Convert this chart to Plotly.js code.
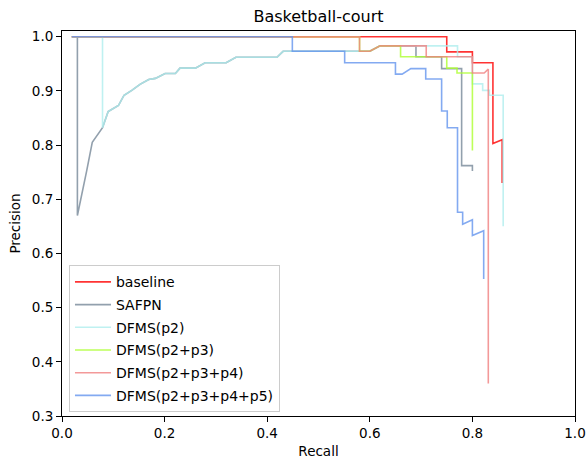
<!DOCTYPE html>
<html>
<head>
<meta charset="utf-8">
<script src="https://cdn.plot.ly/plotly-3.0.1.min.js"></script>
<style>html,body{margin:0;padding:0;background:#fff;}#chart{width:587px;height:466px;}</style>
</head>
<body>
<div id="chart"></div>
<script>
const seriesNames = ["baseline", "SAFPN", "DFMS(p2)", "DFMS(p2+p3)", "DFMS(p2+p3+p4)", "DFMS(p2+p3+p4+p5)"];
const seriesColors = ["#ff0000", "#778899", "#afeeee", "#adff2f", "#f08080", "#6495ed"];

const baselineRecall    = [0.019, 0.75, 0.75, 0.80, 0.80, 0.84, 0.84, 0.858, 0.858];
const baselinePrecision = [1.0, 1.0, 0.972, 0.972, 0.952, 0.952, 0.803, 0.81, 0.73];

const safpnRecall    = [0.03, 0.03, 0.048, 0.059, 0.079, 0.090, 0.110, 0.121, 0.136, 0.152, 0.169, 0.182, 0.201, 0.221, 0.230, 0.26, 0.279, 0.320, 0.339, 0.419, 0.431, 0.58, 0.60, 0.62, 0.69, 0.69, 0.74, 0.74, 0.779, 0.779, 0.80, 0.80];
const safpnPrecision = [1.0, 0.67, 0.752, 0.805, 0.832, 0.862, 0.873, 0.892, 0.901, 0.912, 0.921, 0.923, 0.932, 0.932, 0.942, 0.942, 0.952, 0.952, 0.962, 0.962, 0.973, 0.973, 0.973, 0.983, 0.983, 0.963, 0.963, 0.941, 0.941, 0.762, 0.762, 0.752];

const p2Recall    = [0.019, 0.079, 0.079, 0.090, 0.110, 0.121, 0.136, 0.152, 0.169, 0.182, 0.201, 0.221, 0.230, 0.26, 0.279, 0.320, 0.339, 0.419, 0.431, 0.58, 0.60, 0.62, 0.771, 0.771, 0.80, 0.80, 0.82, 0.82, 0.833, 0.833, 0.86, 0.86];
const p2Precision = [1.0, 1.0, 0.832, 0.862, 0.873, 0.892, 0.901, 0.912, 0.921, 0.923, 0.932, 0.932, 0.942, 0.942, 0.952, 0.952, 0.962, 0.962, 0.973, 0.973, 0.973, 0.983, 0.983, 0.963, 0.963, 0.913, 0.913, 0.901, 0.901, 0.892, 0.892, 0.65];

const p23Recall    = [0.019, 0.58, 0.58, 0.60, 0.62, 0.66, 0.66, 0.75, 0.75, 0.77, 0.77, 0.80, 0.80];
const p23Precision = [1.0, 1.0, 0.973, 0.973, 0.983, 0.983, 0.963, 0.963, 0.942, 0.942, 0.933, 0.933, 0.79];

const p234Recall    = [0.019, 0.58, 0.58, 0.60, 0.62, 0.71, 0.71, 0.80, 0.80, 0.823, 0.831, 0.831];
const p234Precision = [1.0, 1.0, 0.973, 0.973, 0.983, 0.983, 0.963, 0.963, 0.933, 0.933, 0.94, 0.36];

const p2345Recall    = [0.019, 0.449, 0.449, 0.551, 0.551, 0.65, 0.65, 0.663, 0.68, 0.709, 0.709, 0.74, 0.74, 0.751, 0.751, 0.771, 0.771, 0.781, 0.781, 0.80, 0.80, 0.822, 0.822];
const p2345Precision = [1.0, 1.0, 0.973, 0.973, 0.952, 0.952, 0.931, 0.931, 0.941, 0.941, 0.922, 0.922, 0.863, 0.863, 0.832, 0.832, 0.676, 0.676, 0.654, 0.662, 0.633, 0.642, 0.553];

const xTicks = [0.0, 0.2, 0.4, 0.6, 0.8, 1.0];
const yTicks = [0.3, 0.4, 0.5, 0.6, 0.7, 0.8, 0.9, 1.0];

const xs = [baselineRecall, safpnRecall, p2Recall, p23Recall, p234Recall, p2345Recall];
const ys = [baselinePrecision, safpnPrecision, p2Precision, p23Precision, p234Precision, p2345Precision];

const FONT = "DejaVu Sans, sans-serif";

const traces = seriesNames.map((n, i) => ({
  type: "scatter",
  mode: "lines",
  name: n,
  x: xs[i],
  y: ys[i],
  legendgroup: "g" + i,
  line: {color: seriesColors[i], width: 1.6},
  opacity: 0.8
}));

const axisCommon = {
  showgrid: false,
  zeroline: false,
  showline: true,
  mirror: true,
  linecolor: "#000",
  linewidth: 1,
  ticks: "outside",
  ticklen: 5,
  tickwidth: 1,
  tickcolor: "#000",
  tickfont: {family: FONT, size: 13.5, color: "#000"},
  tickformat: ".1f"
};

const layout = {
  width: 587,
  height: 466,
  margin: {l: 62, r: 12, t: 31, b: 50},
  paper_bgcolor: "#fff",
  plot_bgcolor: "#fff",
  showlegend: true,
  title: {
    text: "Basketball-court",
    font: {family: FONT, size: 16, color: "#000"},
    x: 0.5, xref: "paper", xanchor: "center",
    y: 1 - 16/466, yref: "container", yanchor: "middle"
  },
  xaxis: Object.assign({}, axisCommon, {
    range: [0, 1],
    tickvals: xTicks,
    title: {text: "Recall", font: {family: FONT, size: 13.5, color: "#000"}, standoff: 6}
  }),
  yaxis: Object.assign({}, axisCommon, {
    range: [0.3, 1.0105],
    tickvals: yTicks,
    title: {text: "Precision", font: {family: FONT, size: 13.5, color: "#000"}, standoff: 8}
  }),
  legend: {
    x: 0.0136, y: 0.0096, xanchor: "left", yanchor: "bottom",
    bgcolor: "rgba(255,255,255,0.8)",
    bordercolor: "#cccccc",
    borderwidth: 1,
    font: {family: FONT, size: 14, color: "#000"},
    traceorder: "grouped",
    tracegroupgap: 1.5,
    itemwidth: 36
  }
};

Plotly.newPlot("chart", traces, layout, {displayModeBar: false, staticPlot: true});
</script>
</body>
</html>
